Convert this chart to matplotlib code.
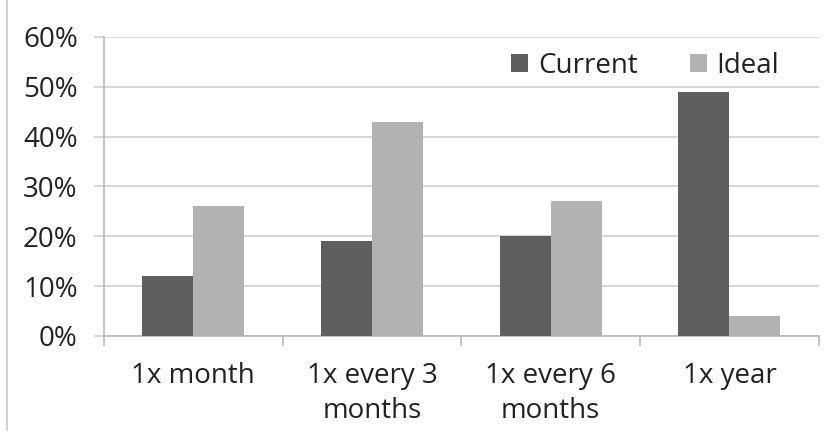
import matplotlib.pyplot as plt
from matplotlib.lines import Line2D
import numpy as np

categories = ['1x month', '1x every 3\nmonths', '1x every 6\nmonths', '1x year']
current = [12, 19, 20, 49]
ideal = [26, 43, 27, 4]
y_ticks = [0, 10, 20, 30, 40, 50, 60]

plt.rcParams['font.family'] = ['Open Sans', 'DejaVu Sans']

fig = plt.figure(figsize=(8.27, 4.41), dpi=100)
ax = fig.add_axes([0.1258, 0.2381, 0.8642, 0.678])

x = np.arange(len(categories))
w = 0.285
ax.bar(x - w / 2, current, width=w, color='#5f5f5f', label='Current', zorder=3)
ax.bar(x + w / 2, ideal, width=w, color='#b2b2b2', label='Ideal', zorder=3)

ax.set_ylim(0, 60)
ax.set_xlim(-0.5, len(categories) - 0.5)
ax.set_yticks(y_ticks)
ax.set_yticklabels([f'{v}%' for v in y_ticks], fontsize=20, color='#222222')
ax.yaxis.grid(True, color='#d0d0d0', linewidth=1.2, zorder=0)

# category labels centered, ticks on category boundaries
ax.set_xticks(x)
ax.set_xticklabels(categories, fontsize=20, color='#222222', linespacing=1.3)
ax.set_xticks(np.arange(-0.5, len(categories)), minor=True)
ax.tick_params(axis='x', which='major', length=0, pad=19)
ax.tick_params(axis='x', which='minor', length=7, width=1.2, color='#b8b8b8', direction='out')
ax.tick_params(axis='y', length=7, width=1.2, color='#d0d0d0', pad=12)

for s in ['top', 'right']:
    ax.spines[s].set_visible(False)
ax.spines['left'].set_color('#b8b8b8')
ax.spines['bottom'].set_color('#b8b8b8')
ax.spines['left'].set_linewidth(1.2)
ax.spines['bottom'].set_linewidth(1.2)

ax.legend(loc='upper right', bbox_to_anchor=(0.98, 1.035), ncol=2, frameon=False,
          fontsize=20, handlelength=0.6, handleheight=0.6, handletextpad=0.35,
          columnspacing=1.9, labelcolor='#222222')

# outer frame line on the left
fig.add_artist(Line2D([7 / 827, 7 / 827], [1.0, 1 - 430 / 441], color='#c8c8c8', linewidth=1.2))

fig.savefig('out.png', dpi=100)
